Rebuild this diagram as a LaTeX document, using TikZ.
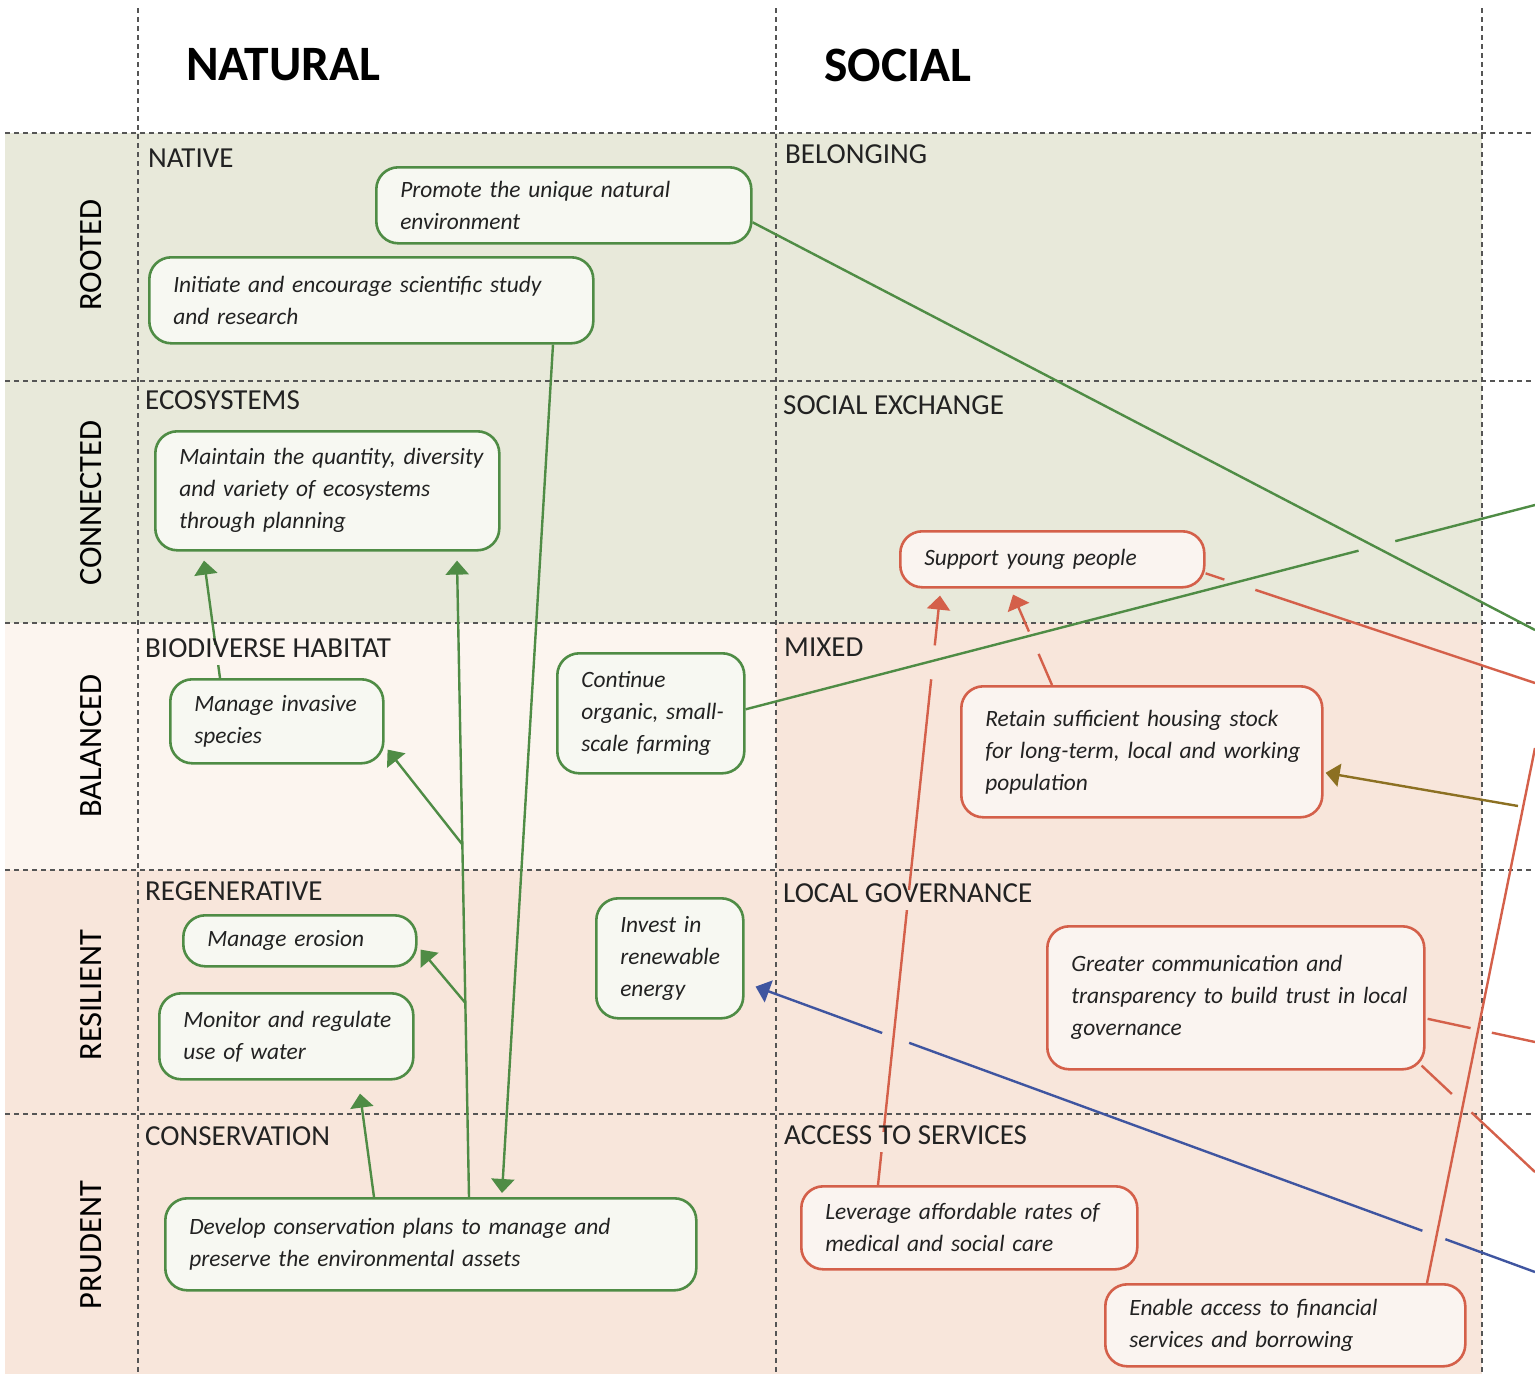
\documentclass[tikz,border=0pt]{standalone}
\usepackage{fontspec}
\setmainfont{Carlito}
\usetikzlibrary{arrows.meta,calc}
\definecolor{bgG}{HTML}{E8E9DA}
\definecolor{bgL}{HTML}{FCF5EF}
\definecolor{bgP}{HTML}{F8E6DB}
\definecolor{lnG}{HTML}{4F8C45}
\definecolor{lnR}{HTML}{D4604A}
\definecolor{lnB}{HTML}{3F55A0}
\definecolor{lnO}{HTML}{8C7022}
\definecolor{fillG}{HTML}{F7F8F2}
\definecolor{fillR}{HTML}{FAF4F0}
\definecolor{txt}{HTML}{222222}
\definecolor{gridc}{HTML}{555555}
\begin{document}
\begin{tikzpicture}[x=1pt,y=-1pt,
  gridline/.style={draw=gridc,line width=1.3pt,dash pattern=on 5pt off 4pt},
  box/.style={draw,rounded corners=22pt,line width=2.6pt,inner xsep=24pt,inner ysep=2pt,
    align=left,font=\itshape\fontsize{23.4}{32}\selectfont,text=txt,anchor=north west},
  gbox/.style={box,draw=lnG,fill=fillG},
  rbox/.style={box,draw=lnR,fill=fillR},
  cat/.style={anchor=base west,inner xsep=1pt,inner ysep=5pt,text height=0.7em,text depth=0.3em,
    font=\fontsize{29}{32}\selectfont,text=txt},
  rowlab/.style={rotate=90,inner sep=0pt,font=\fontsize{32.5}{34}\selectfont,text=black},
  ttl/.style={anchor=west,inner sep=0pt,font=\bfseries\fontsize{49.5}{52}\selectfont,text=black},
  gl/.style={draw=lnG,line width=2.4pt},
  rl/.style={draw=lnR,line width=2.4pt},
  bl/.style={draw=lnB,line width=2.4pt},
  ol/.style={draw=lnO,line width=2.4pt},
  arr/.style={-{Triangle[length=14pt,width=23pt]}}]
\useasboundingbox (0,0) rectangle (1535,1374);
% backgrounds
\fill[bgG] (5,133) rectangle (1482,623);
\fill[bgL] (5,623) rectangle (776,870);
\fill[bgP] (776,623) rectangle (1482,870);
\fill[bgP] (5,870) rectangle (1482,1374);
% grid
\foreach \yy in {133,381,623,870,1114} \draw[gridline] (5,\yy) -- (1535,\yy);
\foreach \xx in {138,776,1482} \draw[gridline] (\xx,8) -- (\xx,1374);
% titles
\node[ttl] (tnat) at (186,65) {NATURAL};
\node[ttl] (tsoc) at (824,65) {SOCIAL};
% row labels
\node[rowlab] (rRooted) at (91,255) {ROOTED};
\node[rowlab] (rConn) at (91,503) {CONNECTED};
\node[rowlab] (rBal) at (91,746) {BALANCED};
\node[rowlab] (rRes) at (91,995) {RESILIENT};
\node[rowlab] (rPru) at (91,1245) {PRUDENT};
% boxes
\node[gbox,minimum width=375pt,minimum height=76pt,text width=327pt] (promote) at (375,166)
  {\mbox{Promote the unique natural}\\\mbox{environment}};
\node[gbox,minimum width=444pt,minimum height=86pt,text width=396pt] (initiate) at (148,256)
  {\mbox{Initiate and encourage scientific study}\\\mbox{and research}};
\node[gbox,minimum width=344pt,minimum height=119pt,text width=296pt] (maintain) at (154,430)
  {\mbox{Maintain the quantity, diversity}\\\mbox{and variety of ecosystems}\\\mbox{through planning}};
\node[gbox,minimum width=213pt,minimum height=84pt,text width=165pt] (invasive) at (169,678)
  {\mbox{Manage invasive}\\\mbox{species}};
\node[gbox,minimum width=187pt,minimum height=120pt,text width=139pt] (continue) at (556,652)
  {\mbox{Continue}\\\mbox{organic, small-}\\\mbox{scale farming}};
\node[gbox,minimum width=233pt,minimum height=51pt,text width=185pt] (erosion) at (182,914)
  {\mbox{Manage erosion}};
\node[gbox,minimum width=254pt,minimum height=86pt,text width=206pt] (monitor) at (158,992)
  {\mbox{Monitor and regulate}\\\mbox{use of water}};
\node[gbox,minimum width=147pt,minimum height=120pt,text width=99pt] (invest) at (595,897)
  {\mbox{Invest in}\\\mbox{renewable}\\\mbox{energy}};
\node[gbox,minimum width=531pt,minimum height=92pt,text width=483pt] (develop) at (164,1197)
  {\mbox{Develop conservation plans to manage and}\\\mbox{preserve the environmental assets}};
\node[rbox,minimum width=304pt,minimum height=56pt,text width=256pt] (support) at (899,530)
  {\mbox{Support young people}};
\node[rbox,minimum width=361pt,minimum height=131pt,text width=313pt] (retain) at (960,685)
  {\mbox{Retain sufficient housing stock}\\\mbox{for long-term, local and working}\\\mbox{population}};
\node[rbox,minimum width=377pt,minimum height=143pt,text width=329pt] (greater) at (1046,925)
  {\mbox{Greater communication and}\\\mbox{transparency to build trust in local}\\\mbox{governance}};
\node[rbox,minimum width=336pt,minimum height=83pt,text width=288pt] (leverage) at (800,1185)
  {\mbox{Leverage affordable rates of}\\\mbox{medical and social care}};
\node[rbox,minimum width=360pt,minimum height=82pt,text width=312pt] (enable) at (1104,1283)
  {\mbox{Enable access to financial}\\\mbox{services and borrowing}};
% free ends
\coordinate (eG1) at (1535,630);
\coordinate (eG6) at (1535,505);
\coordinate (eRa) at (1535,683);
\coordinate (eRb) at (1535,1042);
\coordinate (eRc) at (1535,1172);
\coordinate (eRd) at (1535,748);
\coordinate (eO) at (1518,806);
\coordinate (eB) at (1535,1272);
% helper points on nodes
\coordinate (g6s) at ($(continue.east)+(0,-4)$);
\coordinate (ras) at ($(support.east)+(0,14)$);
\coordinate (rts) at ($(retain.north west)+(92,0)$);
\coordinate (rte) at ($(support.south west)+(114,6)$);
\coordinate (lvs) at ($(leverage.north west)+(78,0)$);
\coordinate (lve) at ($(support.south west)+(41,7)$);
\coordinate (rbs) at ($(greater.east)+(2,21)$);
\coordinate (rcs) at ($(greater.south east)+(-4,-5)$);
\coordinate (ble) at ($(invest.south east)+(11,-33)$);
\coordinate (g3s) at ($(develop.north west)+(305,0)$);
\coordinate (g3e) at ($(maintain.south west)+(303,9)$);
% connectors
\draw[gl] ($(promote.east)+(0,17)$) -- (eG1);
\draw[gl] (g6s) -- ($(g6s)!0.7765!(eG6)$) ($(g6s)!0.823!(eG6)$) -- (eG6);
\draw[rl] (ras) -- ($(ras)!0.057!(eRa)$) ($(ras)!0.151!(eRa)$) -- (eRa);
\draw[rl] (rts) -- ($(rts)!0.344!(rte)$);
\draw[rl,arr] ($(rts)!0.591!(rte)$) -- (rte);
\draw[rl] (lvs) -- ($(lvs)!0.858!(lve)$);
\draw[rl,arr] ($(lvs)!0.9155!(lve)$) -- (lve);
\draw[ol,arr] (eO) -- ($(retain.east)+(2,21)$);
\draw[rl] ($(enable.north west)+(323,0)$) -- (eRd);
\draw[rl] (rbs) -- ($(rbs)!0.40!(eRb)$) ($(rbs)!0.598!(eRb)$) -- (eRb);
\draw[rl] (rcs) -- ($(rcs)!0.267!(eRc)$) ($(rcs)!0.44!(eRc)$) -- (eRc);
\draw[bl] (eB) -- ($(eB)!0.115!(ble)$) ($(eB)!0.1445!(ble)$) -- ($(eB)!0.803!(ble)$);
\draw[bl,arr] ($(eB)!0.8376!(ble)$) -- (ble);
\draw[gl,arr] ($(initiate.south west)+(405,0)$) -- ($(develop.north west)+(338,-4)$);
\draw[gl,arr] (g3s) -- (g3e);
\draw[gl,arr] ($(g3s)!0.554!(g3e)$) -- ($(invasive.south east)+(3,-15)$);
\draw[gl,arr] ($(g3s)!0.305!(g3e)$) -- ($(erosion.south east)+(3,-18)$);
\draw[gl,arr] ($(develop.north west)+(210,0)$) -- ($(monitor.south west)+(202,13)$);
\draw[gl,arr] ($(invasive.north west)+(51,0)$) -- ($(maintain.south west)+(50,9)$);
% category labels (knock out lines)
\node[cat,fill=bgG] (cNative) at (147,167) {NATIVE};
\node[cat,fill=bgG] (cBelong) at (784,163) {BELONGING};
\node[cat,fill=bgG] (cEco) at (144,409) {ECOSYSTEMS};
\node[cat,fill=bgG] (cSocEx) at (782,414) {SOCIAL EXCHANGE};
\node[cat,fill=bgL] (cBio) at (144,657) {BIODIVERSE HABITAT};
\node[cat,fill=bgP] (cMixed) at (783,656) {MIXED};
\node[cat,fill=bgP] (cRegen) at (144,900) {REGENERATIVE};
\node[cat,fill=bgP] (cLocal) at (782,902) {LOCAL GOVERNANCE};
\node[cat,fill=bgP] (cCons) at (144,1145) {CONSERVATION};
\node[cat,fill=bgP] (cAccess) at (783,1144) {ACCESS TO SERVICES};
\end{tikzpicture}
\end{document}
